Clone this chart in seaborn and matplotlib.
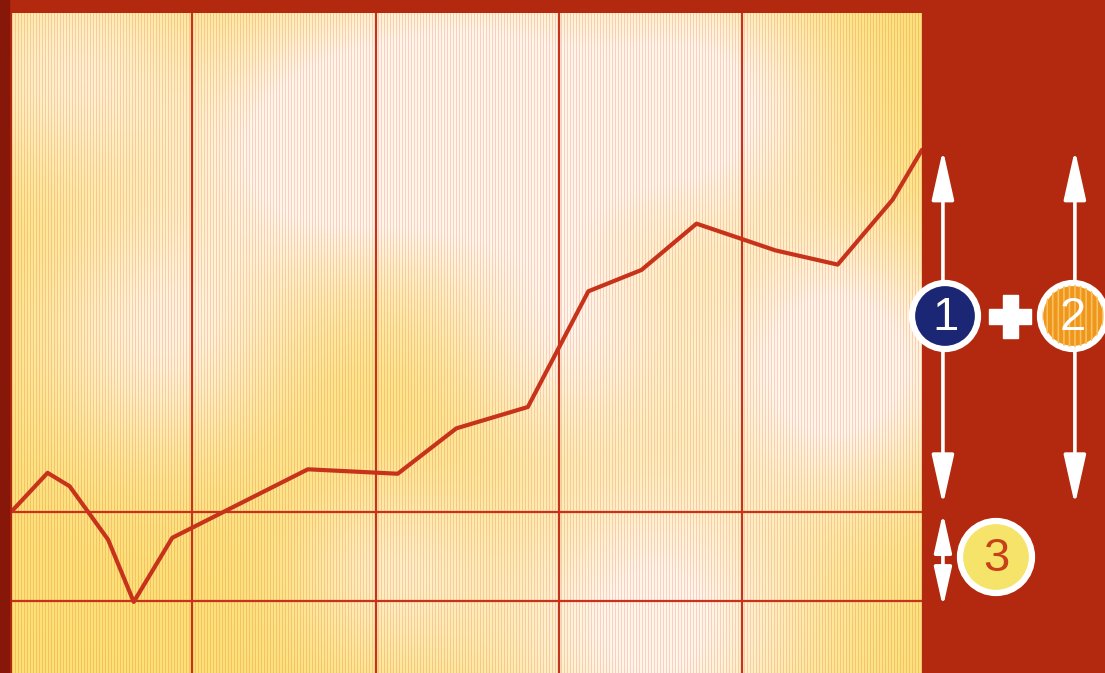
import numpy as np
import matplotlib
matplotlib.use("Agg")
import matplotlib.pyplot as plt
import seaborn as sns
import pandas as pd
from matplotlib.patches import Circle, Rectangle

# line values
x_vals = [0.02, 0.21, 0.33, 0.54, 0.68, 0.89, 1.63, 2.12, 2.44, 2.83,
          3.16, 3.45, 3.75, 4.18, 4.52, 4.82, 4.98]
y_vals = [1.02, 1.44, 1.29, 0.69, -0.01, 0.71, 1.48, 1.43, 1.94, 2.18,
          3.48, 3.72, 4.24, 3.94, 3.78, 4.51, 5.07]
grid_x = [1, 2, 3, 4]
grid_y = [0, 1]
badge_labels = ["1", "2", "3"]

RED_BG = "#b3290f"
LINE_RED = "#c7321a"

sns.set_theme(style="white")
plt.rcParams["font.family"] = ["Liberation Sans", "DejaVu Sans"]
plt.rcParams["hatch.linewidth"] = 1.2

fig = plt.figure(figsize=(11.05, 6.73), dpi=100, facecolor=RED_BG)
W, H = 1105, 673

# dark strip on the left edge
fig.patches.append(Rectangle((0, 0), 9 / W, 1, transform=fig.transFigure,
                             color="#861709", zorder=0))

ax = fig.add_axes([12 / W, 0, 910 / W, 660 / H])
xlim = (0.016, 4.98)
ylim = (-0.809, 6.607)

# cloudy yellow / cream background with fine pinstripes
aw, ah = 910, 660
xx, yy = np.meshgrid(np.arange(aw), np.arange(ah))
blobs = [(470, 110, 120, 1.0), (830, 350, 95, 1.0), (640, 610, 110, 0.9),
         (150, 320, 90, 0.7), (700, 90, 90, 0.8), (290, 130, 90, 0.7),
         (60, 60, 80, 0.6), (380, 560, 70, 0.5), (560, 330, 80, 0.6)]
w = np.zeros((ah, aw))
for cx, cy, s, a in blobs:
    w += a * np.exp(-((xx - cx) ** 2 + (yy - cy) ** 2) / (2 * s ** 2))
w = np.clip(w * 1.1 + 0.1, 0, 1)[..., None]
yellow = np.array([250, 224, 105]) / 255
cream = np.array([254, 246, 232]) / 255
img = yellow * (1 - w) + cream * w
stripe = (xx % 3 == 0)[..., None]
img = np.where(stripe, img * np.array([1.0, 0.84, 0.84]), img)
ax.imshow(img, extent=(xlim[0], xlim[1], ylim[0], ylim[1]), aspect="auto",
          origin="upper", zorder=0, interpolation="nearest")

df = pd.DataFrame({"x": x_vals, "y": y_vals})
sns.lineplot(data=df, x="x", y="y", ax=ax, color=LINE_RED, lw=3,
             sort=False, zorder=3)

for gx in grid_x:
    ax.axvline(gx, color=LINE_RED, lw=1.6, zorder=2)
for gy in grid_y:
    ax.axhline(gy, color=LINE_RED, lw=1.6, zorder=2)

ax.set_xlim(*xlim)
ax.set_ylim(*ylim)
ax.set_xticks([])
ax.set_yticks([])
ax.set_xlabel("")
ax.set_ylabel("")
for sp in ax.spines.values():
    sp.set_visible(False)

# double arrows on the right, tied to the value levels
trans = ax.get_yaxis_transform()
arrow_kw = dict(arrowstyle="<|-|>,head_length=1.7,head_width=0.38",
                mutation_scale=18, lw=2.6, color="white",
                shrinkA=0, shrinkB=0)
ax.annotate("", xy=(1.023, y_vals[-1]), xytext=(1.023, 1.08), xycoords=trans,
            textcoords=trans, arrowprops=arrow_kw, annotation_clip=False)
ax.annotate("", xy=(1.168, y_vals[-1]), xytext=(1.168, 1.08), xycoords=trans,
            textcoords=trans, arrowprops=arrow_kw, annotation_clip=False)
ax.annotate("", xy=(1.023, 0.99), xytext=(1.023, -0.07), xycoords=trans,
            textcoords=trans, arrowprops=dict(arrow_kw, mutation_scale=14),
            annotation_clip=False)

# numbered badges in an overlay using pixel coordinates
ov = fig.add_axes([0, 0, 1, 1], zorder=5)
ov.set_xlim(0, W)
ov.set_ylim(H, 0)
ov.axis("off")
ov.patch.set_alpha(0)

badges = [(945, 316, 33, "#1b2675", "white"),
          (1073, 316, 33, "#f0961a", "white"),
          (996, 557, 36, "#f6e46a", "#c8401a")]
for i, ((cx, cy, r, fc, tc), lab) in enumerate(zip(badges, badge_labels)):
    ov.add_patch(Circle((cx, cy), r, facecolor=fc, edgecolor="white", lw=4.5))
    if i == 1:
        ov.add_patch(Circle((cx, cy), r - 2, facecolor="none",
                            edgecolor="#f8c060", lw=0, hatch="|||"))
    ov.text(cx, cy + 2, lab, ha="center", va="center", fontsize=34,
            color=tc)

# plus sign
ov.add_patch(Rectangle((989, 309), 42, 15, color="white"))
ov.add_patch(Rectangle((1003, 295), 15, 43, color="white"))

fig.savefig("out.png", dpi=100, facecolor=RED_BG)
